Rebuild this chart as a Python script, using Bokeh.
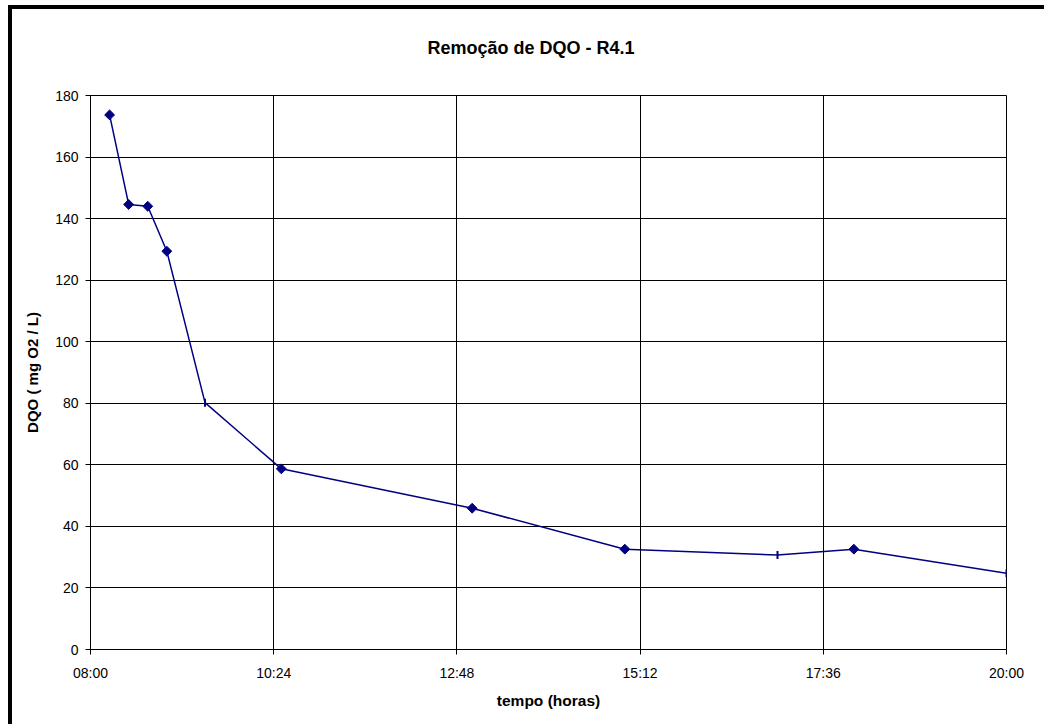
import math
import pandas as pd
from bokeh.plotting import figure
from bokeh.models import (FixedTicker, DatetimeTickFormatter, Range1d, Title,
                          ColumnDataSource, InlineStyleSheet)
from bokeh.embed import file_html
from bokeh.resources import INLINE

# Sampling times and measured COD (DQO) values
times = ["08:15", "08:30", "08:45", "09:00", "09:30", "10:30",
         "13:00", "15:00", "17:00", "18:00", "20:00"]
dqo = [173.7, 144.6, 144.0, 129.4, 80.2, 58.7, 45.9, 32.6, 30.7, 32.6, 24.8]
# Marker style per sample: diamond or short vertical bar
marker_kind = ["diamond", "diamond", "diamond", "diamond", "bar", "diamond",
               "diamond", "diamond", "bar", "diamond", "bar"]

x_tick_labels = ["08:00", "10:24", "12:48", "15:12", "17:36", "20:00"]
y_ticks = [0, 20, 40, 60, 80, 100, 120, 140, 160, 180]

DAY = "2000-01-01 "
t = pd.to_datetime([DAY + s for s in times])
tick_t = pd.to_datetime([DAY + s for s in x_tick_labels])
tick_ms = [ts.value / 1e6 for ts in tick_t]

FONT = "Liberation Sans"
NAVY = "#000080"

p = figure(width=1044, height=724, x_axis_type="datetime",
           output_backend="svg", toolbar_location=None,
           min_border_left=90, min_border_right=38,
           min_border_top=95, min_border_bottom=75)

p.x_range = Range1d(tick_ms[0], tick_ms[-1])
p.y_range = Range1d(0, 180)

p.background_fill_color = "white"
p.border_fill_color = "white"
p.outline_line_color = "black"
p.outline_line_width = 1

# Axes
p.xaxis.ticker = FixedTicker(ticks=tick_ms)
p.xaxis.formatter = DatetimeTickFormatter(
    milliseconds="%H:%M", seconds="%H:%M", minsec="%H:%M", minutes="%H:%M",
    hourmin="%H:%M", hours="%H:%M", days="%H:%M", months="%H:%M", years="%H:%M")
p.yaxis.ticker = FixedTicker(ticks=y_ticks)

for ax in (p.xaxis[0], p.yaxis[0]):
    ax.axis_line_color = "black"
    ax.major_tick_line_color = "black"
    ax.major_tick_in = 0
    ax.major_tick_out = 5
    ax.minor_tick_line_color = None
    ax.major_label_text_font = FONT
    ax.major_label_text_font_size = "14px"
    ax.major_label_text_color = "black"
    ax.axis_label_text_font = FONT
    ax.axis_label_text_font_size = "15px"
    ax.axis_label_text_font_style = "bold"
    ax.axis_label_text_color = "black"

p.xaxis.axis_label = "tempo (horas)"
p.xaxis.axis_label_text_font_size = "15.5px"
p.yaxis.axis_label = "DQO ( mg O2 / L)"
p.xaxis.major_label_standoff = 10
p.yaxis.major_label_standoff = 7
p.xaxis.axis_label_standoff = 8
p.yaxis.axis_label_standoff = 11

p.xgrid.ticker = FixedTicker(ticks=tick_ms)
p.ygrid.ticker = FixedTicker(ticks=y_ticks)
for g in (p.xgrid[0], p.ygrid[0]):
    g.grid_line_color = "black"
    g.grid_line_width = 1

# Series line and markers
src = ColumnDataSource(dict(t=t, dqo=dqo, kind=marker_kind))
p.line("t", "dqo", source=src, line_color=NAVY, line_width=1.5)

dia_t = [ti for ti, k in zip(t, marker_kind) if k == "diamond"]
dia_y = [v for v, k in zip(dqo, marker_kind) if k == "diamond"]
bar_t = [ti for ti, k in zip(t, marker_kind) if k == "bar"]
bar_y = [v for v, k in zip(dqo, marker_kind) if k == "bar"]

p.scatter(dia_t, dia_y, marker="square", angle=math.pi / 4, size=7,
          fill_color=NAVY, line_color=NAVY)
p.scatter(bar_t, bar_y, marker="dash", angle=math.pi / 2, size=8,
          line_color=NAVY, line_width=2)

# Chart title, centred over the whole chart area
p.add_layout(Title(text="Remoção de DQO - R4.1", align="left", offset=337,
                   vertical_align="top", standoff=71,
                   text_font=FONT, text_font_size="18px",
                   text_font_style="bold", text_color="black"), "above")

# Thick chart-area border along the top and left edges
p.stylesheets = [InlineStyleSheet(css="""
:host::after {
  content: "";
  position: absolute;
  left: 8px;
  top: 5px;
  width: 1036px;
  height: 719px;
  box-sizing: border-box;
  border-left: 4px solid black;
  border-top: 4px solid black;
  pointer-events: none;
}
""")]

open("out.html", "w").write(file_html(p, INLINE))
